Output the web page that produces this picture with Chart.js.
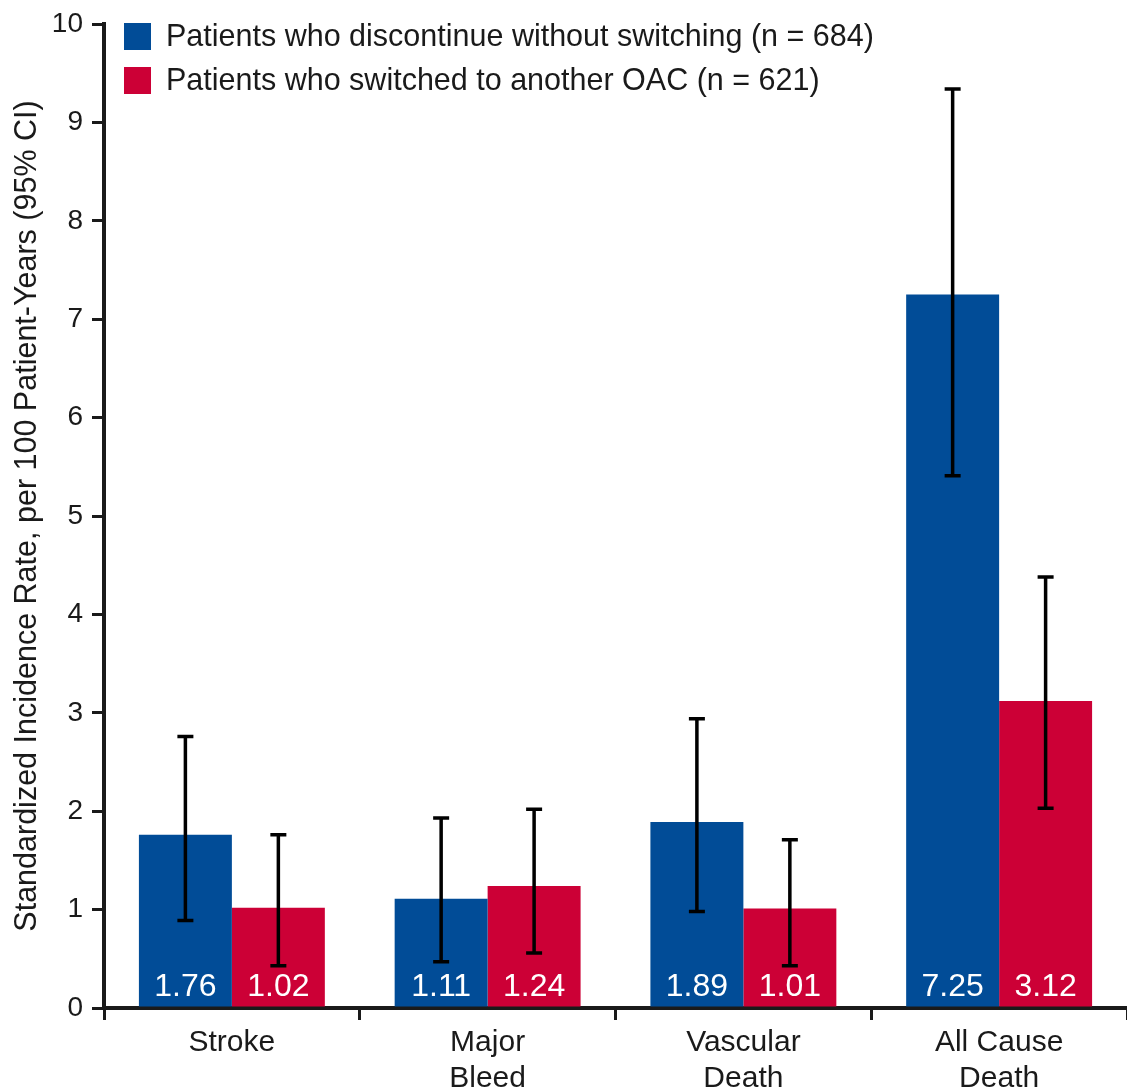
<!DOCTYPE html>
<html>
<head>
<meta charset="utf-8">
<script src="https://cdn.jsdelivr.net/npm/chart.js@4"></script>
<style>
  html, body { margin: 0; padding: 0; background: #fff; }
  canvas { display: block; }
</style>
</head>
<body>
<canvas id="chart" width="1127" height="1091"></canvas>
<script>
// data
const categories = [['Stroke'], ['Major', 'Bleed'], ['Vascular', 'Death'], ['All Cause', 'Death']];
const seriesLabels = [
  'Patients who discontinue without switching (n = 684)',
  'Patients who switched to another OAC (n = 621)'
];
const discontinued = [1.76, 1.11, 1.89, 7.25];
const discontinuedLow = [0.89, 0.47, 0.98, 5.41];
const discontinuedHigh = [2.76, 1.93, 2.94, 9.34];
const switched = [1.02, 1.24, 1.01, 3.12];
const switchedLow = [0.43, 0.56, 0.43, 2.03];
const switchedHigh = [1.76, 2.02, 1.71, 4.38];
const yTicks = [0, 1, 2, 3, 4, 5, 6, 7, 8, 9, 10];

const BLUE = '#014c97';
const RED = '#cc0036';
const INK = '#1a1a1a';
const FONT = "'Liberation Sans', Arial, sans-serif";

// error bars + value labels at the foot of each bar
const barExtras = {
  id: 'barExtras',
  afterDatasetsDraw(chart) {
    const ctx = chart.ctx;
    const y = chart.scales.y;
    chart.data.datasets.forEach((ds, i) => {
      const meta = chart.getDatasetMeta(i);
      meta.data.forEach((bar, j) => {
        // value label
        ctx.save();
        ctx.fillStyle = '#fff';
        ctx.font = '32px ' + FONT;
        ctx.textAlign = 'center';
        ctx.textBaseline = 'alphabetic';
        ctx.fillText(ds.data[j].toFixed(2), bar.x, y.getPixelForValue(0) - 12);
        ctx.restore();

        // CI whisker
        const lo = y.getPixelForValue(ds.ciLow[j]);
        const hi = y.getPixelForValue(ds.ciHigh[j]);
        ctx.save();
        ctx.strokeStyle = '#000';
        ctx.lineWidth = 3.5;
        ctx.beginPath();
        ctx.moveTo(bar.x, lo);
        ctx.lineTo(bar.x, hi);
        ctx.moveTo(bar.x - 8, lo);
        ctx.lineTo(bar.x + 8, lo);
        ctx.moveTo(bar.x - 8, hi);
        ctx.lineTo(bar.x + 8, hi);
        ctx.stroke();
        ctx.restore();
      });
    });
  }
};

// legend drawn inside the plot area, top left
const innerLegend = {
  id: 'innerLegend',
  afterDraw(chart) {
    const ctx = chart.ctx;
    ctx.save();
    ctx.font = '30.5px ' + FONT;
    ctx.textBaseline = 'middle';
    ctx.textAlign = 'left';
    chart.data.datasets.forEach((ds, i) => {
      const top = 23 + i * 44;
      ctx.fillStyle = ds.backgroundColor;
      ctx.fillRect(124, top, 27, 27);
      ctx.fillStyle = INK;
      ctx.fillText(ds.label, 166, top + 15);
    });
    ctx.restore();
  }
};

new Chart(document.getElementById('chart').getContext('2d'), {
  type: 'bar',
  data: {
    labels: categories,
    datasets: [
      { label: seriesLabels[0], data: discontinued, ciLow: discontinuedLow, ciHigh: discontinuedHigh, backgroundColor: BLUE },
      { label: seriesLabels[1], data: switched, ciLow: switchedLow, ciHigh: switchedHigh, backgroundColor: RED }
    ]
  },
  options: {
    responsive: false,
    animation: false,
    devicePixelRatio: 1,
    layout: { padding: { top: 24, right: 0, bottom: 0, left: 0 } },
    datasets: { bar: { barPercentage: 1.0, categoryPercentage: 0.727 } },
    plugins: { legend: { display: false }, tooltip: { enabled: false } },
    scales: {
      x: {
        grid: { drawOnChartArea: false, offset: true, tickLength: 12, lineWidth: 3, color: INK },
        border: { display: true, width: 4, color: INK },
        ticks: { color: INK, padding: 5, font: { family: FONT, size: 30, lineHeight: 1.2 }, maxRotation: 0 },
        afterFit(scale) { scale.height = 83; scale.paddingLeft = 0; scale.paddingRight = 0; }
      },
      y: {
        min: 0,
        max: 10,
        afterBuildTicks(scale) { scale.ticks = yTicks.map(v => ({ value: v })); },
        grid: { drawOnChartArea: false, tickLength: 12, lineWidth: 3, color: INK },
        border: { display: true, width: 4, color: INK },
        ticks: { color: INK, padding: 9, font: { family: FONT, size: 28 } },
        title: {
          display: true,
          text: 'Standardized Incidence Rate, per 100 Patient-Years (95% CI)',
          color: INK,
          font: { family: FONT, size: 30.5, lineHeight: 1.0 },
          padding: { top: 12, bottom: 0 }
        },
        afterFit(scale) { scale.width = 104; scale.paddingTop = 0; scale.paddingBottom = 0; }
      }
    }
  },
  plugins: [barExtras, innerLegend]
});
</script>
</body>
</html>
